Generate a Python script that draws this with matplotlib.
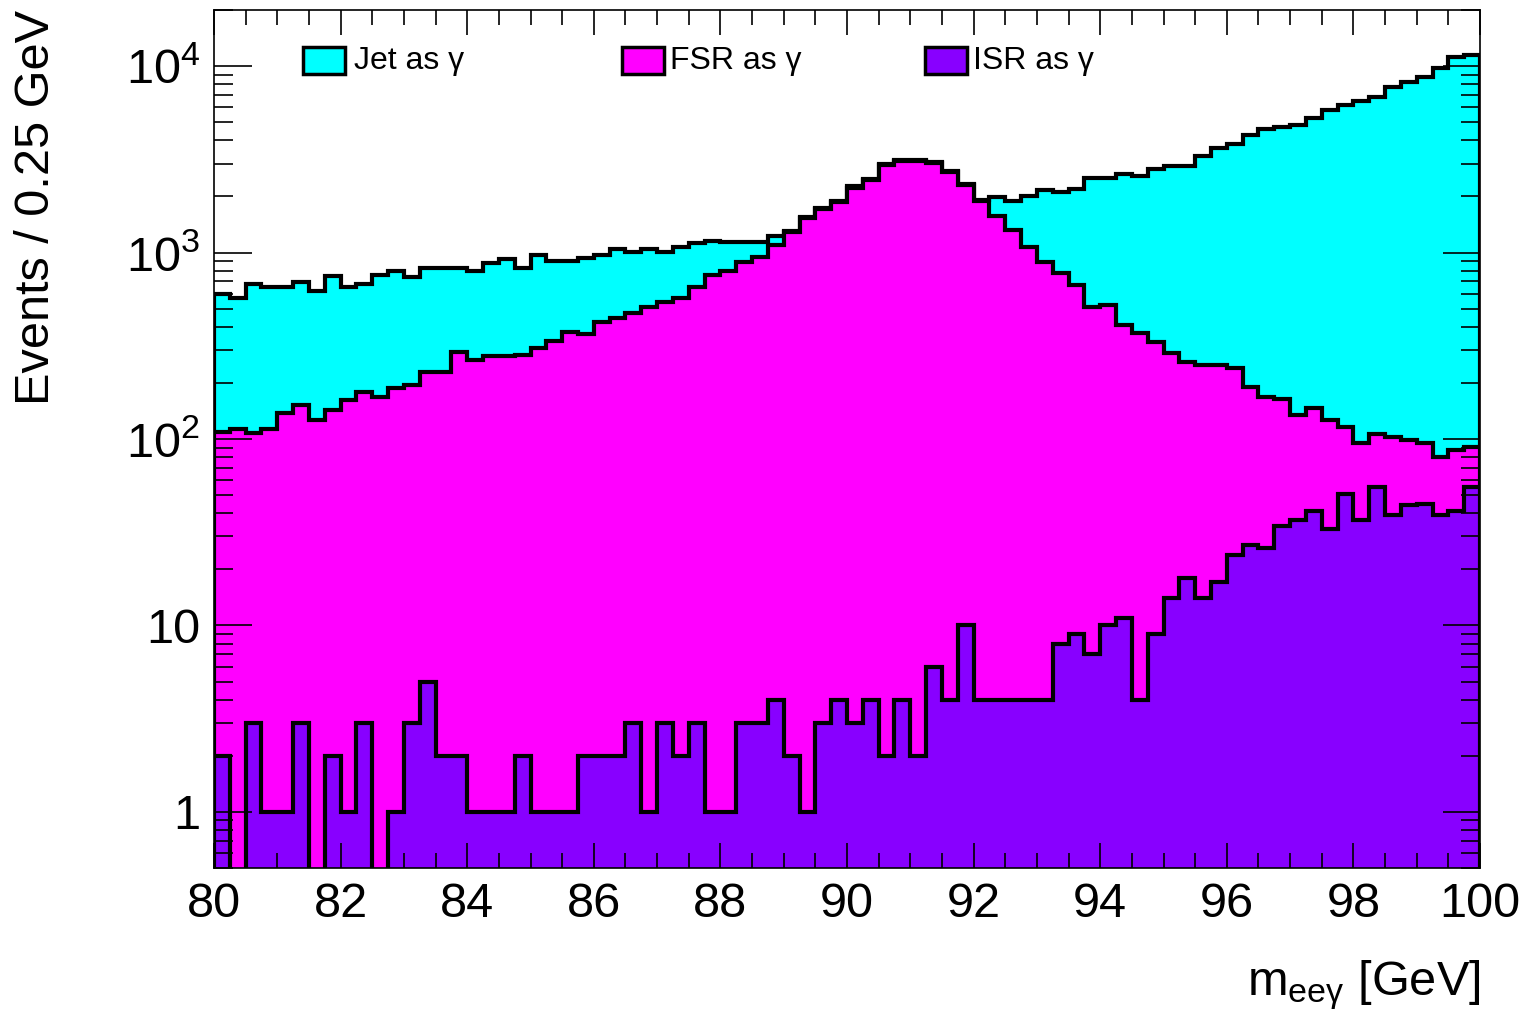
import numpy as np
import matplotlib
matplotlib.use("Agg")
import matplotlib.pyplot as plt
from matplotlib.patches import Rectangle
from matplotlib.ticker import FixedLocator, FixedFormatter, MultipleLocator, LogLocator, NullFormatter

plt.rcParams["font.family"] = ["Liberation Sans", "DejaVu Sans"]
plt.rcParams["mathtext.fontset"] = "custom"
plt.rcParams["mathtext.rm"] = "Liberation Sans"
plt.rcParams["mathtext.it"] = "Liberation Sans:italic"
plt.rcParams["mathtext.bf"] = "Liberation Sans:bold"

# Histogram binning: m_eeγ from 80 to 100 GeV in 0.25 GeV bins
bin_low = 80.0
bin_high = 100.0
bin_width = 0.25

# Events per bin for each photon origin
isr = [2, 0, 3, 1, 1, 3, 0, 2, 1, 3, 0, 1, 3, 5, 2, 2, 1, 1, 1, 2,
       1, 1, 1, 2, 2, 2, 3, 1, 3, 2, 3, 1, 1, 3, 3, 4, 2, 1, 3, 4,
       3, 4, 2, 4, 2, 6, 4, 10, 4, 4, 4, 4, 4, 8, 9, 7, 10, 11, 4, 9,
       14, 18, 14, 17, 24, 27, 26, 34, 37, 41, 33, 51, 37, 55, 39, 44, 45, 39, 41, 55]

fsr = [107, 113, 105, 112, 137, 149, 126, 141, 161, 176, 168, 187, 192, 224, 227, 291, 264, 278, 278, 281,
       306, 334, 374, 364, 422, 443, 471, 509, 540, 568, 650, 756, 795, 886, 943, 1093, 1286, 1530, 1707, 1861,
       2227, 2444, 2942, 3093, 3095, 3014, 2699, 2291, 1885, 1566, 1317, 1066, 885, 768, 661, 503, 513, 397, 366, 322,
       276, 241, 235, 232, 216, 163, 142, 130, 97, 106, 93, 65, 58, 51, 64, 55, 50, 41, 46, 36]

jet = [491, 457, 570, 542, 517, 543, 496, 605, 491, 499, 589, 608, 544, 597, 597, 533, 531, 600, 644, 547,
       663, 565, 525, 568, 546, 599, 533, 534, 464, 500, 472, 396, 342, 249, 192, 128, 20, 25, 30, 33,
       38, 42, 48, 52, 52, 50, 45, 40, 30, 420, 568, 940, 1274, 1334, 1518, 1996, 1983, 2228, 2200, 2474,
       2630, 2651, 3041, 3381, 3576, 4076, 4426, 4546, 4696, 5118, 5681, 6064, 6395, 6714, 7607, 8101, 8635, 9670, 11083, 11369]

labels = ["Jet as γ", "FSR as γ", "ISR as γ"]
colors = ["#00FFFF", "#FF00FF", "#8800FF"]

xtick_values = [80, 82, 84, 86, 88, 90, 92, 94, 96, 98, 100]
ytick_values = [1, 10, 100, 1000, 10000]
ytick_labels = ["1", "10", r"$10^{2}$", r"$10^{3}$", r"$10^{4}$"]

W, H = 1532, 1018
fig = plt.figure(figsize=(W / 100, H / 100), dpi=100)
ax = fig.add_axes([214 / W, 1 - 868 / H, (1480 - 214) / W, (868 - 10) / H])

edges = np.arange(bin_low, bin_high + bin_width / 2, bin_width)
isr_a = np.array(isr, dtype=float)
fsr_a = np.array(fsr, dtype=float)
jet_a = np.array(jet, dtype=float)

# Stacked levels, drawn from the top of the stack downwards
levels = [isr_a + fsr_a + jet_a, isr_a + fsr_a, isr_a]
floor = 1e-3
for level, color in zip(levels, colors):
    ax.stairs(np.clip(level, floor, None), edges, baseline=floor, fill=True,
              facecolor=color, edgecolor="black", linewidth=3.0, joinstyle="miter")

ax.set_yscale("log")
ax.set_xlim(bin_low, bin_high)
ax.set_ylim(0.5, 2.0e4)

ax.xaxis.set_major_locator(FixedLocator(xtick_values))
ax.xaxis.set_minor_locator(MultipleLocator(0.5))
ax.yaxis.set_major_locator(FixedLocator(ytick_values))
ax.yaxis.set_major_formatter(FixedFormatter(ytick_labels))
ax.yaxis.set_minor_locator(LogLocator(base=10, subs=np.arange(2, 10)))
ax.yaxis.set_minor_formatter(NullFormatter())

ax.tick_params(axis="both", which="both", direction="in", top=True, right=True, width=1.2, colors="black")
ax.tick_params(axis="x", which="major", length=18, labelsize=35, pad=10)
ax.tick_params(axis="x", which="minor", length=11)
ax.tick_params(axis="y", which="major", length=27, labelsize=35, pad=10)
ax.tick_params(axis="y", which="minor", length=14)
for sp in ax.spines.values():
    sp.set_linewidth(1.2)

# Axis titles
fig.text(37 / W, 1 - 10 / H, "Events / 0.25 GeV", rotation=90, ha="center", va="top", fontsize=35)
fig.text(1480 / W, 1 - 985 / H, r"m$_{\mathrm{ee\gamma}}$ [GeV]", ha="right", va="center", fontsize=35)

# Legend row along the top of the frame
box_x = [303, 622, 925]
text_x = [354, 670, 973]
for bx, tx, lab, col in zip(box_x, text_x, labels, colors):
    fig.patches.append(Rectangle((bx / W, 1 - 74 / H), 42 / W, 27 / H, transform=fig.transFigure,
                                 facecolor=col, edgecolor="black", linewidth=2.5))
    fig.text(tx / W, 1 - 61 / H, lab, ha="left", va="center", fontsize=23)

fig.savefig("out.png", dpi=100)
